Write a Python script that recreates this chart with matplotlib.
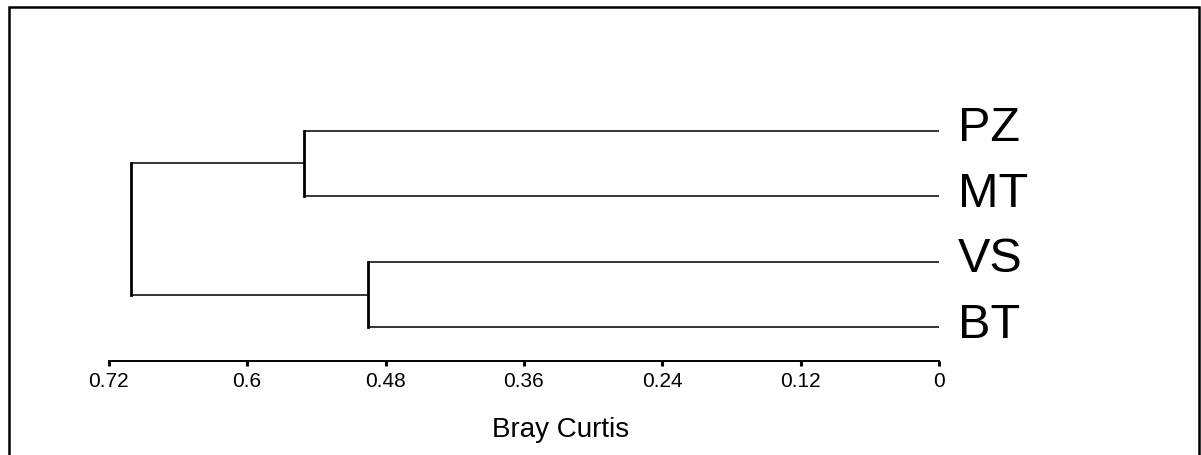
import matplotlib
matplotlib.use("Agg")
import matplotlib.pyplot as plt
from matplotlib.patches import Rectangle

plt.rcParams['font.family'] = ['Liberation Sans', 'DejaVu Sans']

# Data
leaves = ['PZ', 'MT', 'VS', 'BT']
leaf_pos = [4, 3, 2, 1]
# merges: (left child pos, left height, right child pos, right height, merge height)
h_pz_mt = 0.551
h_vs_bt = 0.495
h_root = 0.701
xticks = [0.72, 0.6, 0.48, 0.36, 0.24, 0.12, 0]
xtick_labels = ['0.72', '0.6', '0.48', '0.36', '0.24', '0.12', '0']
xlabel = 'Bray Curtis'

W, H = 1201, 456
fig = plt.figure(figsize=(W / 100, H / 100), dpi=100)

x0, x1 = 108.7, 939.3
ybot, ytop = 362, 98.9
ax = fig.add_axes([x0 / W, (H - ybot) / H, (x1 - x0) / W, (ybot - ytop) / H])
ax.set_xlim(0.72, 0)
ax.set_ylim(0.486, 4.5)

hlw, vlw = 1.1, 2.0
col = 'black'

def merge(ya, ha, yb, hb, hm):
    ax.plot([ha, hm], [ya, ya], color=col, lw=hlw, solid_capstyle='butt')
    ax.plot([hb, hm], [yb, yb], color=col, lw=hlw, solid_capstyle='butt')
    ax.plot([hm, hm], [ya, yb], color=col, lw=vlw, solid_capstyle='projecting')
    return (ya + yb) / 2

c1 = merge(leaf_pos[0], 0, leaf_pos[1], 0, h_pz_mt)
c2 = merge(leaf_pos[2], 0, leaf_pos[3], 0, h_vs_bt)
merge(c1, h_pz_mt, c2, h_vs_bt, h_root)

for name, y in zip(leaves, leaf_pos):
    ax.annotate(name, xy=(0, y), xytext=(13.5, -6.7), textcoords='offset points',
                fontsize=35, va='baseline', ha='left', annotation_clip=False)

for s in ['top', 'right', 'left']:
    ax.spines[s].set_visible(False)
ax.spines['bottom'].set_linewidth(1.4)
ax.set_xticks(xticks)
ax.set_xticklabels(xtick_labels, fontsize=15)
ax.tick_params(axis='x', length=3.5, width=2.2, pad=4)
ax.set_yticks([])
ax.set_facecolor('none')

fig.text(561 / W, 1 - 437 / H, xlabel, fontsize=20, ha='center', va='baseline')

fig.add_artist(Rectangle((9 / W, -0.1), (1199 - 9) / W, 1.1 - 8 / H,
                         transform=fig.transFigure, fill=False,
                         edgecolor='black', lw=1.8))

fig.savefig('out.png', dpi=100)
